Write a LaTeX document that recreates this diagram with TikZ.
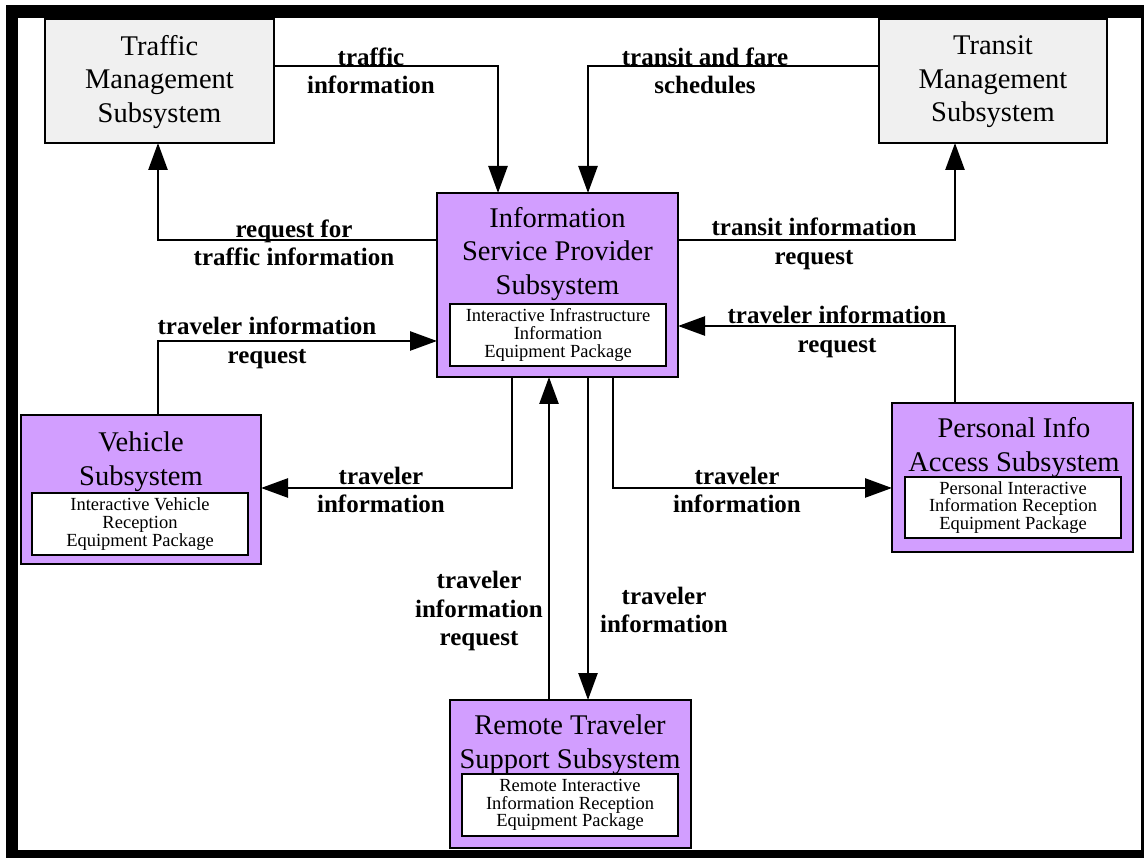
\documentclass[tikz,border=0pt]{standalone}
\usepackage{fontspec}
\setmainfont{Liberation Serif}
\usetikzlibrary{arrows.meta}
\definecolor{mgmtgray}{RGB}{240,240,240}
\definecolor{subpurple}{RGB}{210,158,255}

\begin{document}
\begin{tikzpicture}[x=1pt,y=-1pt,
  outerbox/.style={draw=black,line width=2.8pt,inner sep=0pt,outer sep=0pt},
  mgmt/.style={outerbox,fill=mgmtgray},
  subsys/.style={outerbox,fill=subpurple},
  pkg/.style={draw=black,fill=white,line width=2.6pt,inner sep=0pt,outer sep=0pt,
    align=center,minimum width=216pt,minimum height=62pt,
    font=\fontsize{18.5}{17.8}\selectfont},
  title/.style={align=center,inner sep=0pt,font=\fontsize{28.5}{33.5}\selectfont},
  flow/.style={draw,line width=2.6pt,-{Triangle[length=27pt,width=19pt]}},
  lbl/.style={align=center,inner sep=0pt,font=\fontsize{25}{28.5}\selectfont\bfseries},
]
% page and frame
\useasboundingbox (0,0) rectangle (1144,858);
\fill[white] (0,0) rectangle (1144,858);
\fill[black] (6,5) rectangle (1144,858);
\fill[white] (18,18) rectangle (1141,850);

% management subsystems
\node[mgmt,minimum width=229pt,minimum height=124pt] (tms) at (159.5,81) {};
\node[title] (tms-t) at (159.5,82) {Traffic\\Management\\Subsystem};
\node[mgmt,minimum width=228pt,minimum height=124pt] (trms) at (993,81) {};
\node[title] (trms-t) at (993,82) {Transit\\Management\\Subsystem};

% information service provider
\node[subsys,minimum width=241pt,minimum height=184pt] (isp) at (557.5,285) {};
\node[title] (isp-t) at (557.5,254) {Information\\Service Provider\\Subsystem};
\node[pkg] (isp-p) at (558,335) {Interactive Infrastructure\\Information\\Equipment Package};

% vehicle
\node[subsys,minimum width=240pt,minimum height=149pt] (veh) at (141,489.5) {};
\node[title] (veh-t) at (141,461.5) {Vehicle\\Subsystem};
\node[pkg] (veh-p) at (140,524) {Interactive Vehicle\\Reception\\Equipment Package};

% personal information access
\node[subsys,minimum width=241pt,minimum height=149pt] (pias) at (1012.5,477.5) {};
\node[title] (pias-t) at (1014,447.5) {Personal Info\\Access Subsystem};
\node[pkg,minimum height=61pt] (pias-p) at (1013,507.5) {Personal Interactive\\Information Reception\\Equipment Package};

% remote traveler support
\node[subsys,minimum width=241pt,minimum height=148pt] (rts) at (570.5,774) {};
\node[title] (rts-t) at (570,744.5) {Remote Traveler\\Support Subsystem};
\node[pkg] (rts-p) at (570,805) {Remote Interactive\\Information Reception\\Equipment Package};

% flows
\draw[flow] (tms.east |- 0,66) -| (isp.north -| 498,0);
\draw[flow] (trms.west |- 0,66) -| (isp.north -| 588,0);
\draw[flow] (isp.west |- 0,240) -| (tms.south -| 158,0);
\draw[flow] (isp.east |- 0,240) -| (trms.south -| 955,0);
\draw[flow] (veh.north -| 158,0) |- (isp.west |- 0,341);
\draw[flow] (pias.north -| 955,0) |- (isp.east |- 0,326);
\draw[flow] (isp.south -| 512,0) |- (veh.east |- 0,488);
\draw[flow] (isp.south -| 613,0) |- (pias.west |- 0,488);
\draw[flow] (rts.north -| 549,0) -- (isp.south -| 549,0);
\draw[flow] (isp.south -| 588,0) -- (rts.north -| 588,0);

% flow labels
\node[lbl] (l-ti) at (371,71) {traffic\\information};
\node[lbl] (l-tfs) at (705,71) {transit and fare\\schedules};
\node[lbl] (l-rti) at (294,243) {request for\\traffic information};
\node[lbl] (l-tir) at (814,244) {transit information\\request};
\node[lbl] (l-vreq) at (267,343) {traveler information\\request};
\node[lbl] (l-preq) at (837,332) {traveler information\\request};
\node[lbl] (l-vinfo) at (381,490) {traveler\\information};
\node[lbl] (l-pinfo) at (737,490) {traveler\\information};
\node[lbl] (l-rreq) at (479,611) {traveler\\information\\request};
\node[lbl] (l-rinfo) at (664,610) {traveler\\information};
\end{tikzpicture}
\end{document}
